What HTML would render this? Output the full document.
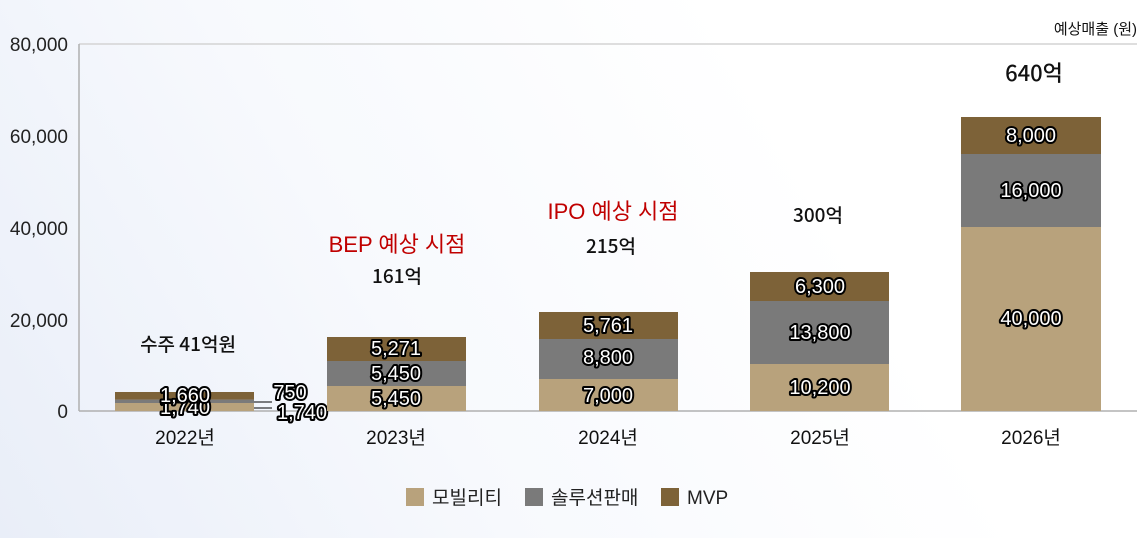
<!DOCTYPE html>
<html><head><meta charset="utf-8"><style>
html,body{margin:0;padding:0;}
body{width:1147px;height:538px;overflow:hidden;background:linear-gradient(60deg,#e9eef8 0%,#f7f9fd 35%,#ffffff 70%);}
svg{display:block;font-family:"Liberation Sans","Noto Sans CJK KR",sans-serif;}
.v{font-size:20px;fill:#fff;stroke:#000;stroke-width:4px;paint-order:stroke;stroke-linejoin:round;text-anchor:middle;}
.t{font-size:19px;fill:#222;}
.c{font-size:19px;fill:#111;text-anchor:middle;}
.a{font-size:19px;fill:#111;text-anchor:middle;font-family:"Noto Sans CJK KR","Liberation Sans",sans-serif;font-weight:500;}
.r{font-size:22px;fill:#c00000;text-anchor:middle;}
</style></head><body>
<svg width="1147" height="538" viewBox="0 0 1147 538">
<line x1="79" y1="44" x2="1137" y2="44" stroke="#d4d4d4" stroke-width="1.5"/>
<line x1="79" y1="44" x2="79" y2="411" stroke="#b0b0b0" stroke-width="1.5"/>
<line x1="79" y1="411" x2="1137" y2="411" stroke="#b0b0b0" stroke-width="1.5"/>
<g class="t" text-anchor="end">
<text x="68" y="51">80,000</text>
<text x="68" y="143">60,000</text>
<text x="68" y="235">40,000</text>
<text x="68" y="327">20,000</text>
<text x="68" y="418">0</text>
</g>
<text x="1137" y="34" text-anchor="end" style="font-size:15px;fill:#111">예상매출 (원)</text>
<!-- 2022 -->
<rect x="115" y="403" width="139" height="8" fill="#b8a27c"/>
<rect x="115" y="399.6" width="139" height="3.4" fill="#7a7a7a"/>
<rect x="115" y="392" width="139" height="7.6" fill="#7d6238"/>
<text class="v" x="185" y="414">1,740</text>
<text class="v" x="185" y="402">1,660</text>
<line x1="254" y1="402" x2="272" y2="402" stroke="#000"/>
<line x1="254" y1="408" x2="272" y2="408" stroke="#000"/>
<text class="v" x="290" y="399">750</text>
<text class="v" x="302" y="419">1,740</text>
<!-- 2023 -->
<rect x="327" y="386" width="139" height="25" fill="#b8a27c"/>
<rect x="327" y="361" width="139" height="25" fill="#7a7a7a"/>
<rect x="327" y="337" width="139" height="24" fill="#7d6238"/>
<text class="v" x="396" y="405">5,450</text>
<text class="v" x="396" y="380">5,450</text>
<text class="v" x="396" y="355">5,271</text>
<!-- 2024 -->
<rect x="539" y="379" width="139" height="32" fill="#b8a27c"/>
<rect x="539" y="339" width="139" height="40" fill="#7a7a7a"/>
<rect x="539" y="312" width="139" height="27" fill="#7d6238"/>
<text class="v" x="608" y="402">7,000</text>
<text class="v" x="608" y="364">8,800</text>
<text class="v" x="608" y="332">5,761</text>
<!-- 2025 -->
<rect x="750" y="364" width="139" height="47" fill="#b8a27c"/>
<rect x="750" y="301" width="139" height="63" fill="#7a7a7a"/>
<rect x="750" y="272" width="139" height="29" fill="#7d6238"/>
<text class="v" x="820" y="394">10,200</text>
<text class="v" x="820" y="339">13,800</text>
<text class="v" x="820" y="293">6,300</text>
<!-- 2026 -->
<rect x="961" y="227" width="140" height="184" fill="#b8a27c"/>
<rect x="961" y="154" width="140" height="73" fill="#7a7a7a"/>
<rect x="961" y="117" width="140" height="37" fill="#7d6238"/>
<text class="v" x="1031" y="325">40,000</text>
<text class="v" x="1031" y="197">16,000</text>
<text class="v" x="1031" y="142">8,000</text>
<!-- x labels -->
<g class="c">
<text x="185" y="444">2022년</text>
<text x="396" y="444">2023년</text>
<text x="608" y="444">2024년</text>
<text x="820" y="444">2025년</text>
<text x="1031" y="444">2026년</text>
</g>
<!-- annotations -->
<text class="a" x="188" y="351">수주 41억원</text>
<text class="r" x="397" y="252">BEP 예상 시점</text>
<text class="a" x="397" y="283">161억</text>
<text class="r" x="613" y="219">IPO 예상 시점</text>
<text class="a" x="611" y="253">215억</text>
<text class="a" x="818" y="222">300억</text>
<text class="a" x="1034" y="81" style="font-size:22px">640억</text>
<!-- legend -->
<rect x="406" y="488" width="18" height="18" fill="#b8a27c"/>
<text class="t" x="432" y="504">모빌리티</text>
<rect x="525" y="488" width="18" height="18" fill="#7a7a7a"/>
<text class="t" x="551" y="504">솔루션판매</text>
<rect x="661" y="488" width="18" height="18" fill="#7d6238"/>
<text class="t" x="687" y="504">MVP</text>
</svg>
</body></html>
